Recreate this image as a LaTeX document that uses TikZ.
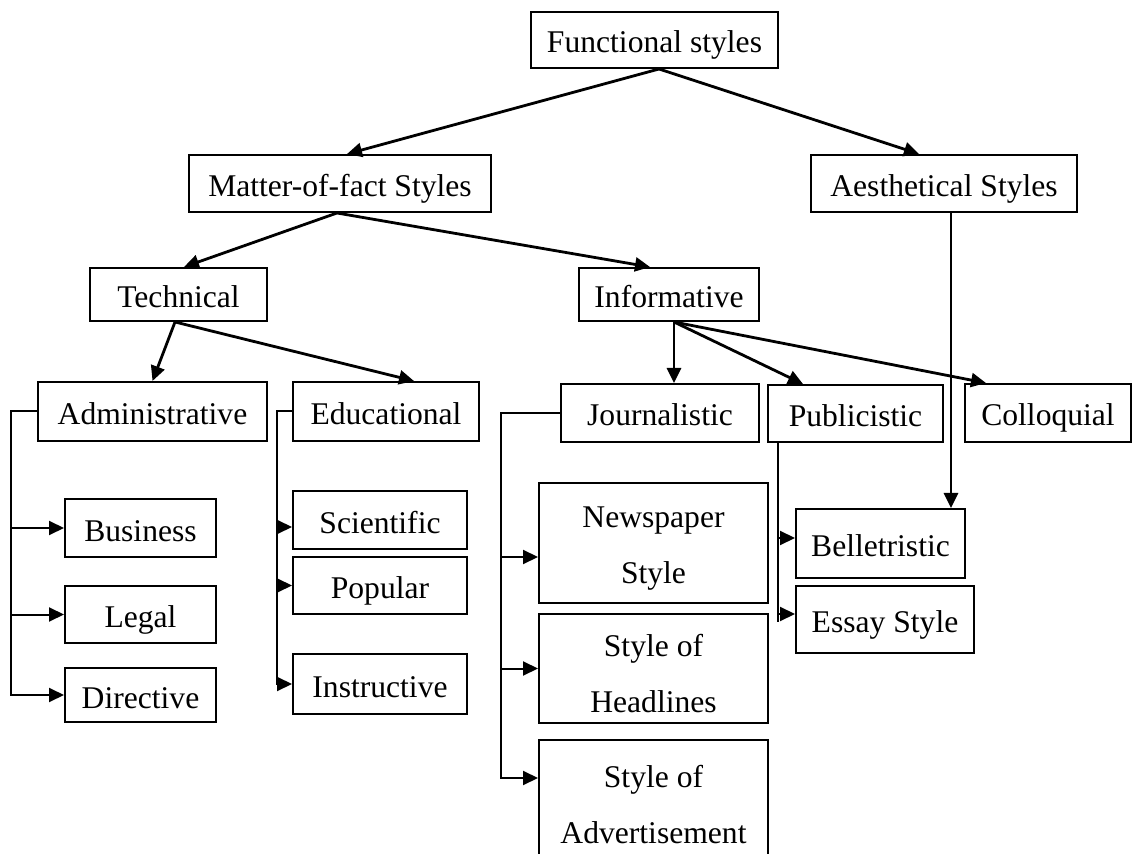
\documentclass[tikz,border=0pt]{standalone}
\usepackage{fontspec}
\setmainfont{Liberation Serif}
\usetikzlibrary{arrows.meta}
\begin{document}
\begin{tikzpicture}[x=0.5pt,y=-0.5pt,
 bx/.style={draw, line width=1pt, inner sep=0pt, align=center, text height=13pt, text depth=0pt, font=\fontsize{15.8}{28}\selectfont},
 ml/.style={text height=, text depth=},
 arr/.style={line width=1.4pt, -{Triangle[length=7.5pt,width=7pt]}},
 tr/.style={line width=1pt},
 tra/.style={line width=1pt, -{Triangle[length=7.5pt,width=7pt]}}]
\useasboundingbox (0,0) rectangle (1133,854);
\fill[white] (0,0) rectangle (1133,854);
% boxes
\node[bx, minimum width=123.5pt, minimum height=28pt] (func) at (654.5,40) {Functional styles};
\node[bx, minimum width=151pt, minimum height=28.5pt] (mof) at (340,183.5) {Matter-of-fact Styles};
\node[bx, minimum width=133pt, minimum height=28.5pt] (aes) at (944,183.5) {Aesthetical Styles};
\node[bx, minimum width=88.5pt, minimum height=26.5pt] (tech) at (178.5,294.5) {Technical};
\node[bx, minimum width=90pt, minimum height=26.5pt] (inf) at (669,294.5) {Informative};
\node[bx, minimum width=114.5pt, minimum height=29.5pt] (adm) at (152.5,411.5) {Administrative};
\node[bx, minimum width=93pt, minimum height=29.5pt] (edu) at (386,411.5) {Educational};
\node[bx, minimum width=99pt, minimum height=29pt] (jou) at (660,413) {Journalistic};
\node[bx, minimum width=87.5pt, minimum height=28.5pt] (pub) at (855.5,413.5) {Publicistic};
\node[bx, minimum width=83pt, minimum height=29pt] (col) at (1048,413) {Colloquial};
\node[bx, minimum width=75.5pt, minimum height=29pt] (bus) at (140.5,528) {Business};
\node[bx, minimum width=75.5pt, minimum height=28.5pt] (leg) at (140.5,614.5) {Legal};
\node[bx, minimum width=75.5pt, minimum height=27pt] (dir) at (140.5,695) {Directive};
\node[bx, minimum width=87pt, minimum height=29pt] (sci) at (380,520) {Scientific};
\node[bx, minimum width=87pt, minimum height=28.5pt] (pop) at (380,585.5) {Popular};
\node[bx, minimum width=87pt, minimum height=30pt] (ins) at (380,684) {Instructive};
\node[bx, ml, minimum width=114.5pt, minimum height=60pt] (new) at (653.5,543) {\rule{0pt}{16pt}Newspaper\\Style};
\node[bx, ml, minimum width=114.5pt, minimum height=54.5pt] (hea) at (653.5,668.5) {\rule{0pt}{16pt}Style of\\Headlines};
\node[bx, ml, minimum width=114.5pt, minimum height=65pt] (adv) at (653.5,805) {Style of\\Advertisement};
\node[bx, minimum width=84.5pt, minimum height=34.5pt] (bel) at (880.5,543.5) {Belletristic};
\node[bx, minimum width=89pt, minimum height=33.5pt] (ess) at (885,619.5) {Essay Style};
% main arrows
\draw[arr] ([xshift=2.25pt]func.south) -- ([xshift=3.5pt]mof.north);
\draw[arr] ([xshift=2.25pt]func.south) -- ([xshift=-12.5pt]aes.north);
\draw[arr] ([xshift=-1.5pt]mof.south) -- ([xshift=2.75pt]tech.north);
\draw[arr] ([xshift=-1.5pt]mof.south) -- ([xshift=-9.5pt]inf.north);
\draw[arr] ([xshift=-1.75pt]tech.south) -- (adm.north);
\draw[arr] ([xshift=-1.75pt]tech.south) -- ([xshift=14pt]edu.north);
\draw[arr] ([xshift=2.5pt]inf.south) -- ([xshift=7pt]jou.north);
\draw[arr] ([xshift=2.5pt]inf.south) -- ([xshift=-26.25pt]pub.north);
\draw[arr] ([xshift=2.5pt]inf.south) -- ([xshift=-31pt]col.north);
\draw[arr] ([xshift=3.5pt]aes.south) -- ([xshift=3.5pt]aes.south |- bel.north);
% Administrative tree
\draw[tra] (adm.west) -- ([xshift=-13pt]adm.west) coordinate (admL) |- (dir.west);
\draw[tra] (admL |- bus.west) -- (bus.west);
\draw[tra] (admL |- leg.west) -- (leg.west);
% Educational tree
\draw[tra] (edu.west) -- ([xshift=-7.5pt]edu.west) coordinate (eduL) |- (ins.west);
\draw[tra] (eduL |- sci.west) ++(0,7) -- ([yshift=-3.5pt]sci.west);
\draw[tra] (eduL |- pop.west) -- (pop.west);
% Journalistic tree
\draw[tra] (jou.west) -- ([xshift=-29.5pt]jou.west) coordinate (jouL) |- ([yshift=13.5pt]adv.west);
\draw[tra] (jouL |- new.west) ++(0,14) -- ([yshift=-7pt]new.west);
\draw[tra] (jouL |- hea.west) -- (hea.west);
% Publicistic tree
\coordinate (pubT) at ([xshift=5.5pt]pub.south west);
\draw[tr] (pubT) -- ([yshift=-1.25pt]pubT |- ess.west);
\draw[tra] (pubT |- bel.west) ++(0,-5.5) -- ([yshift=2.75pt]bel.west);
\draw[tra] (pubT |- ess.west) ++(0,-5.5) -- ([yshift=2.75pt]ess.west);
\end{tikzpicture}
\end{document}
